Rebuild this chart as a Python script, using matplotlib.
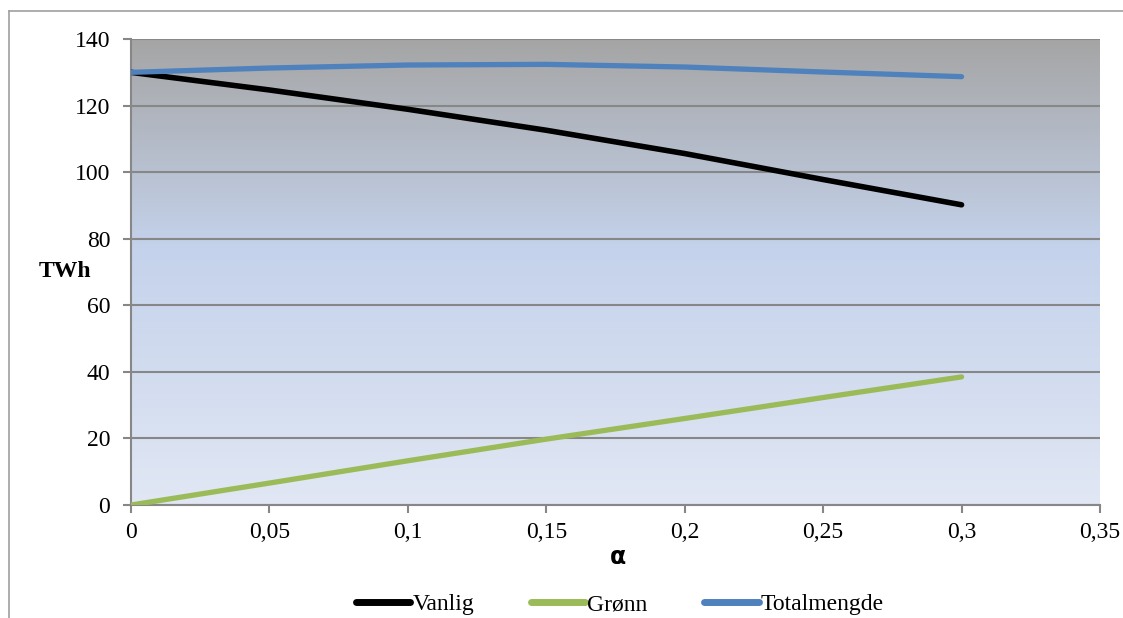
import matplotlib.pyplot as plt
import numpy as np
from matplotlib.colors import LinearSegmentedColormap
from matplotlib.lines import Line2D

# data
alpha = [0, 0.05, 0.1, 0.15, 0.2, 0.25, 0.3]
vanlig = [130.0, 124.7, 118.9, 112.6, 105.6, 97.8, 90.2]
gronn = [0.0, 6.6, 13.3, 19.8, 26.0, 32.3, 38.5]
totalmengde = [130.0, 131.3, 132.2, 132.4, 131.6, 130.1, 128.7]

x_ticks = [0, 0.05, 0.1, 0.15, 0.2, 0.25, 0.3, 0.35]
x_labels = ['0', '0,05', '0,1', '0,15', '0,2', '0,25', '0,3', '0,35']
y_ticks = [0, 20, 40, 60, 80, 100, 120, 140]

serif = 'Liberation Serif'
grid_col = '#878787'

fig = plt.figure(figsize=(11.23, 6.18), dpi=100)
ax = fig.add_axes([0.1167, 0.1828, 0.8628, 0.7540])

# background gradient (grey top -> light blue bottom)
cmap = LinearSegmentedColormap.from_list(
    'bg', [(0.0, '#e1e7f4'), (0.55, '#c4d2eb'), (1.0, '#a5a5a5')])
grad = np.linspace(0, 1, 256).reshape(-1, 1)
ax.imshow(grad, cmap=cmap, origin='lower', aspect='auto',
          extent=[0, 1, 0, 1], transform=ax.transAxes, zorder=0)

ax.plot(alpha, vanlig, color='black', lw=4, solid_capstyle='round', label='Vanlig', zorder=3)
ax.plot(alpha, gronn, color='#9bbb59', lw=3.8, solid_capstyle='round', label='Grønn', zorder=3)
ax.plot(alpha, totalmengde, color='#4f81bd', lw=3.8, solid_capstyle='round', label='Totalmengde', zorder=3)

ax.set_xlim(0, 0.35)
ax.set_ylim(0, 140)
ax.set_xticks(x_ticks)
ax.set_xticklabels(x_labels)
ax.set_yticks(y_ticks)
ax.yaxis.grid(True, color=grid_col, lw=1.5, zorder=1)
ax.set_axisbelow(True)

for s in ['top', 'right']:
    ax.spines[s].set_visible(False)
for s in ['left', 'bottom']:
    ax.spines[s].set_color(grid_col)
    ax.spines[s].set_linewidth(1.5)
ax.tick_params(direction='out', length=6, width=1.5, color=grid_col,
               labelsize=17, pad=6)
ax.tick_params(axis='y', pad=9)
for lab in ax.get_xticklabels() + ax.get_yticklabels():
    lab.set_fontfamily(serif)

ax.set_ylabel('TWh', fontfamily=serif, fontweight='bold', fontsize=17,
              rotation=0, labelpad=0)
ax.yaxis.set_label_coords(-0.068, 0.478)
ax.set_xlabel('α', fontfamily='DejaVu Sans', fontweight='bold', fontsize=17)
ax.xaxis.set_label_coords(0.503, -0.085)

leg = fig.legend(loc='lower center', bbox_to_anchor=(0.552, -0.03), ncol=3,
                 frameon=False, prop={'family': serif, 'size': 17},
                 handlelength=2.3, handletextpad=0.1, columnspacing=2.4)
for h in leg.get_lines():
    h.set_linewidth(5)

# outer chart frame (cropped)
fig.add_artist(Line2D([9 / 1123, 9 / 1123], [0, 1 - 11 / 618],
                      transform=fig.transFigure, color='#a0a0a0', lw=1.2))
fig.add_artist(Line2D([9 / 1123, 1], [1 - 11 / 618, 1 - 11 / 618],
                      transform=fig.transFigure, color='#a0a0a0', lw=1.2))

fig.savefig('out.png', dpi=100)
